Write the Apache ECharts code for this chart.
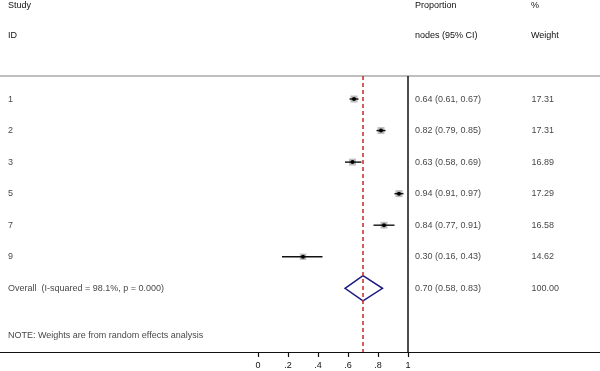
<!DOCTYPE html>
<html>
<head>
<meta charset="utf-8">
<script src="https://cdn.jsdelivr.net/npm/echarts@6/dist/echarts.min.js"></script>
<style>
  html, body { margin: 0; padding: 0; background: #fff; }
  #chart { width: 600px; height: 371px; }
</style>
</head>
<body>
<div id="chart"></div>
<script>
// study rows
const studyIds = ['1', '2', '3', '5', '7', '9'];
const estimates = [0.64, 0.82, 0.63, 0.94, 0.84, 0.30];
const lowerCI = [0.61, 0.79, 0.58, 0.91, 0.77, 0.16];
const upperCI = [0.67, 0.85, 0.69, 0.97, 0.91, 0.43];
const weights = [17.31, 17.31, 16.89, 17.29, 16.58, 14.62];

// pooled estimate
const overallLabel = 'Overall  (I-squared = 98.1%, p = 0.000)';
const overallEst = 0.70;
const overallLo = 0.58;
const overallHi = 0.83;
const overallWeight = 100.00;

const noteText = 'NOTE: Weights are from random effects analysis';
const xTickValues = [0, 0.2, 0.4, 0.6, 0.8, 1];
const xTickLabels = ['0', '.2', '.4', '.6', '.8', '1'];

const FONT = 'Liberation Sans, Arial, sans-serif';
const TXT = '#111';

// text column positions (in x-axis units)
const COL_ID = -1.667;
const COL_CI = 1.047;
const COL_W = 1.823;

const fmt = v => v.toFixed(2);

const ciRows = studyIds.map((id, i) => [i + 1, estimates[i], lowerCI[i], upperCI[i], weights[i]]);
const overallRow = studyIds.length + 1;
const noteRow = overallRow + 1.5;

const textRows = [];
studyIds.forEach((id, i) => {
  textRows.push([COL_ID, i + 1, id]);
  textRows.push([COL_CI, i + 1, `${fmt(estimates[i])} (${fmt(lowerCI[i])}, ${fmt(upperCI[i])})`]);
  textRows.push([COL_W, i + 1, fmt(weights[i])]);
});
textRows.push([COL_ID, overallRow, overallLabel]);
textRows.push([COL_CI, overallRow, `${fmt(overallEst)} (${fmt(overallLo)}, ${fmt(overallHi)})`]);
textRows.push([COL_W, overallRow, fmt(overallWeight)]);
textRows.push([COL_ID, noteRow, noteText]);

const chart = echarts.init(document.getElementById('chart'));

const headerText = (x, y, text) => ({
  type: 'text', left: x, top: y,
  style: { text, font: `9px ${FONT}`, fill: TXT }
});

const option = {
  animation: false,
  backgroundColor: '#fff',
  grid: { left: 0, right: 0, top: 76, bottom: 19 },
  xAxis: [
    {
      type: 'value', min: -1.72, max: 2.28, position: 'bottom',
      splitLine: { show: false },
      axisLine: { show: true, onZero: false, lineStyle: { color: '#111', width: 1.2 } },
      axisTick: { show: true, length: 5, customValues: xTickValues, lineStyle: { color: '#111', width: 1.2 } },
      axisLabel: {
        show: true, customValues: xTickValues, margin: 9,
        formatter: v => xTickLabels[xTickValues.indexOf(Math.round(v * 10) / 10)] ?? '',
        fontFamily: FONT, fontSize: 9, color: TXT
      }
    },
    {
      type: 'value', min: -1.72, max: 2.28, position: 'top',
      splitLine: { show: false },
      axisLine: { show: true, onZero: false, lineStyle: { color: '#aaa', width: 1.5 } },
      axisTick: { show: false }, axisLabel: { show: false }
    }
  ],
  yAxis: { type: 'value', inverse: true, min: 0.27, max: 9.02, show: false },
  graphic: [
    headerText(8, 1, 'Study'),
    headerText(8, 31, 'ID'),
    headerText(415, 1, 'Proportion'),
    headerText(415, 31, 'nodes (95% CI)'),
    headerText(531, 1, '%'),
    headerText(531, 31, 'Weight')
  ],
  series: [
    {
      type: 'custom',
      data: ciRows,
      encode: { x: [1, 2, 3], y: 0 },
      clip: false,
      z: 3,
      renderItem: (params, api) => {
        const row = api.value(0);
        const pE = api.coord([api.value(1), row]);
        const pL = api.coord([api.value(2), row]);
        const pH = api.coord([api.value(3), row]);
        const s = 7 * Math.sqrt(api.value(4) / 17.31);
        return {
          type: 'group',
          children: [
            { type: 'rect', shape: { x: pE[0] - s / 2, y: pE[1] - s / 2, width: s, height: s },
              style: { fill: '#bdbdbd' } },
            { type: 'line', shape: { x1: pL[0], y1: pL[1], x2: pH[0], y2: pH[1] },
              style: { stroke: '#111', lineWidth: 1.4 } },
            { type: 'circle', shape: { cx: pE[0], cy: pE[1], r: 2 },
              style: { fill: '#000' } }
          ]
        };
      },
      // line of no effect at 1
      markLine: {
        silent: true, symbol: 'none', label: { show: false },
        lineStyle: { color: '#111', type: 'solid', width: 1.5 },
        data: [{ xAxis: 1 }]
      }
    },
    {
      type: 'custom',
      data: [[overallRow, overallEst, overallLo, overallHi]],
      encode: { x: [1, 2, 3], y: 0 },
      z: 4,
      renderItem: (params, api) => {
        const row = api.value(0);
        const pL = api.coord([api.value(2), row]);
        const pH = api.coord([api.value(3), row]);
        const pT = api.coord([api.value(1), row - 0.4]);
        const pB = api.coord([api.value(1), row + 0.4]);
        return {
          type: 'polygon',
          shape: { points: [pL, pT, pH, pB] },
          style: { fill: 'none', stroke: '#1a1a80', lineWidth: 1.5 }
        };
      },
      // pooled estimate line
      markLine: {
        silent: true, symbol: 'none', label: { show: false },
        lineStyle: { color: '#c8282d', type: [4, 3], width: 1.5, opacity: 1 },
        emphasis: { disabled: true },
        data: [{ xAxis: overallEst }]
      }
    },
    {
      type: 'scatter',
      data: textRows,
      symbolSize: 0,
      silent: true,
      label: {
        show: true, position: 'right', distance: 0,
        formatter: p => p.data[2],
        fontFamily: FONT, fontSize: 9, color: TXT
      }
    }
  ]
};

chart.setOption(option);
</script>
</body>
</html>
